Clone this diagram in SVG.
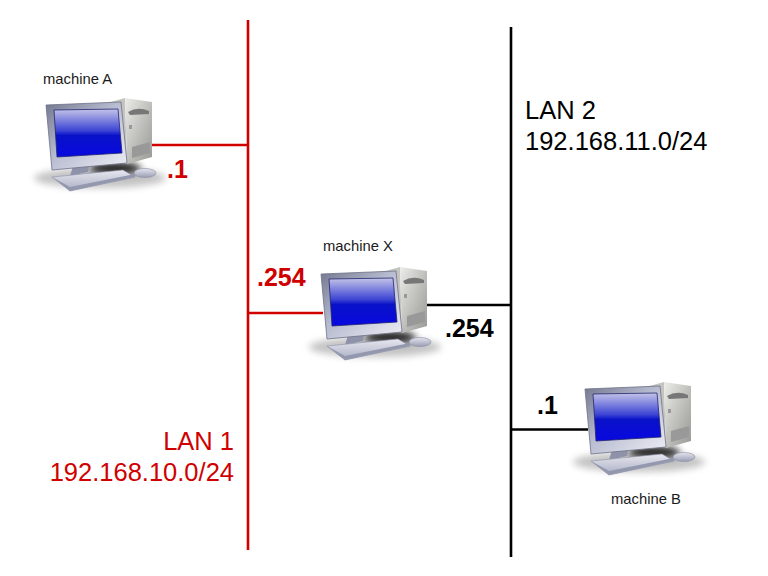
<svg xmlns="http://www.w3.org/2000/svg" width="768" height="576" viewBox="0 0 768 576">
<style>
text{font-family:"Liberation Sans",Arial,sans-serif}
.name{font-size:14.800px;fill:#1a1a1a}
.lan{font-size:25.500px}
.addr{font-size:25px;font-weight:bold}
.red{fill:#d00000}
.blk{fill:#000}
.r{stroke:#d00000;stroke-width:2.6;fill:none}
.k{stroke:#000;stroke-width:2.6;fill:none}
</style>
<defs>
<filter id="blur" x="-30%" y="-60%" width="160%" height="220%"><feGaussianBlur stdDeviation="3.5"/></filter>
<linearGradient id="scr" x1="0" y1="0" x2="0" y2="1"><stop offset="0" stop-color="#c4c4e8"/><stop offset=".45" stop-color="#3c44d4"/><stop offset=".55" stop-color="#0a12c8"/><stop offset="1" stop-color="#0808e0"/></linearGradient>
<linearGradient id="frame" x1="0" y1="0" x2="1" y2="1"><stop offset="0" stop-color="#73788f"/><stop offset=".45" stop-color="#b8bcd0"/><stop offset="1" stop-color="#eeeef4"/></linearGradient>
<linearGradient id="tower" x1="0" y1="0" x2="1" y2="1"><stop offset="0" stop-color="#ececE8"/><stop offset=".6" stop-color="#b8b8b4"/><stop offset="1" stop-color="#989894"/></linearGradient>
<linearGradient id="kb" x1="0" y1="0" x2="0" y2="1"><stop offset="0" stop-color="#e6e7f0"/><stop offset="1" stop-color="#aaaec2"/></linearGradient>
<linearGradient id="ms" x1="0" y1="0" x2="0" y2="1"><stop offset="0" stop-color="#e4e5ee"/><stop offset="1" stop-color="#9a9eb4"/></linearGradient>
<g id="pc">
<ellipse cx="100" cy="178" rx="66" ry="10" fill="#888" opacity=".5" filter="url(#blur)"/>
<ellipse cx="115" cy="168" rx="26" ry="6" fill="#000" opacity=".85" filter="url(#blur)"/>
<path d="M107 103L125 98L127 164L118 160Z" fill="#c4c4c0"/>
<path d="M125 98L152 102L152 157L127 164Z" fill="url(#tower)"/>
<path d="M128 112Q138 106 149 111L149 114L130 115Z" fill="#777"/>
<path d="M132 147L150 142L150 153L132 158Z" fill="#999"/>
<rect x="129" y="125" width="3" height="4" fill="#999"/>
<path d="M73 166L90 163L88 172L70 176Z" fill="#8f93aa"/>
<path d="M46 105L121 102L127 163L52 170Z" fill="url(#frame)" stroke="#6d7186" stroke-width=".8"/>
<path d="M54 110L118 109L122 153L57 157Z" fill="url(#scr)" stroke="#20246c" stroke-width=".8"/>
<path d="M52 177L123 170L135 177L70 191Z" fill="url(#kb)" stroke="#8b8fa6" stroke-width=".6"/>
<path d="M52 177L70 187L135 174L135 177L70 191Z" fill="#9498ae"/>
<ellipse cx="145" cy="173" rx="11" ry="4.500" fill="url(#ms)" stroke="#8b8fa6" stroke-width=".6"/>
</g>
</defs>
<g id="connectors">
<path class="r" d="M248 20V550M152 145H248M248 313H323"/>
<path class="k" d="M511 27V557M427 305H511M511 429.500H588"/>
</g>
<g id="machine-a"><use href="#pc"/><text class="name" x="43" y="84">machine A</text><text class="addr red" x="167" y="178">.1</text></g>
<g id="machine-x"><use href="#pc" x="275" y="169"/><text class="name" x="323" y="251">machine X</text><text class="addr red" x="257" y="286">.254</text><text class="addr blk" x="445" y="337">.254</text></g>
<g id="machine-b"><use href="#pc" x="539" y="284"/><text class="name" x="611" y="504">machine B</text><text class="addr blk" x="537" y="414">.1</text></g>
<g id="lan-1"><text class="lan red" text-anchor="end" x="234" y="450">LAN 1</text><text class="lan red" text-anchor="end" x="234" y="481">192.168.10.0/24</text></g>
<g id="lan-2"><text class="lan blk" x="525" y="119">LAN 2</text><text class="lan blk" x="525" y="150">192.168.11.0/24</text></g>
</svg>
